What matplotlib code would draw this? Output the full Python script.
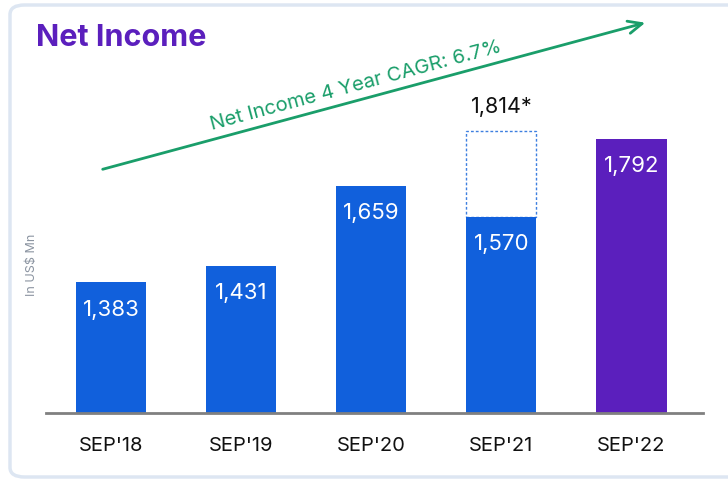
import matplotlib.pyplot as plt
from matplotlib.patches import FancyBboxPatch

categories = ["SEP'18", "SEP'19", "SEP'20", "SEP'21", "SEP'22"]
net_income = [1383, 1431, 1659, 1570, 1792]
restated_sep21 = 1814
cagr_label = 'Net Income 4 Year CAGR: 6.7%'

blue = '#1160dc'
purple = '#5b1fbd'
green = '#1a9e6a'

plt.rcParams['font.family'] = ['Inter', 'DejaVu Sans']

fig = plt.figure(figsize=(7.28, 4.82), dpi=100)
W, H = 728.0, 482.0

# card outline (right side runs off the image)
card = FancyBboxPatch((10 / W, 5 / H), 760 / W, 472 / H,
                      boxstyle='round,pad=0,rounding_size=0.02',
                      transform=fig.transFigure, facecolor='white',
                      edgecolor='#dde6f2', linewidth=2.5, clip_on=False,
                      zorder=-10)
fig.patches.append(card)

ax = fig.add_axes([46 / W, 1 - 413 / H, (703 - 46) / W, (413 - 20) / H])
ax.set_facecolor('none')

x = list(range(len(categories)))
colors = [blue] * 4 + [purple]
bw = 0.54
ax.bar(x, net_income, width=bw, color=colors, zorder=2)

# restated SEP'21 value as dotted outline box
ax.bar(x[3], restated_sep21 - net_income[3], bottom=net_income[3], width=bw,
       facecolor='white', edgecolor='#3d7fe0', linestyle=(0, (2, 1.5)),
       linewidth=1.0, zorder=1)
ax.text(x[3], restated_sep21 + 40, '{:,}*'.format(restated_sep21), ha='center',
        va='bottom', fontsize=15.5, color='#111111')

for xi, v in zip(x, net_income):
    ax.text(xi, v - 78, '{:,}'.format(v), ha='center', va='center',
            fontsize=16, color='white', zorder=3)

ax.set_ylim(1010, 2132)
ax.set_xlim(-0.5, 4.55)
for s in ['top', 'right', 'left']:
    ax.spines[s].set_visible(False)
ax.spines['bottom'].set_color('#808080')
ax.spines['bottom'].set_linewidth(2)
ax.set_yticks([])
ax.set_xticks(x)
ax.set_xticklabels(categories, fontsize=14.5, color='#111111')
ax.tick_params(axis='x', length=0, pad=17)

# CAGR arrow
ax.annotate('', xy=(648 / W, 1 - 22 / H), xytext=(100 / W, 1 - 170 / H),
            xycoords='figure fraction', textcoords='figure fraction',
            arrowprops=dict(arrowstyle='->,head_length=1.0,head_width=0.45',
                            color=green, lw=2))
fig.text(356 / W, 1 - 86 / H, cagr_label, rotation=15.1, ha='center',
         va='center', fontsize=14.5, color=green, rotation_mode='anchor')

fig.text(36 / W, 1 - 38 / H, 'Net Income', fontsize=22, fontweight='bold',
         color=purple, ha='left', va='center')
fig.text(32 / W, 1 - 265 / H, 'In US$ Mn', rotation=90, fontsize=9,
         color='#8a93a0', ha='center', va='center')

fig.savefig('out.png', dpi=100)
